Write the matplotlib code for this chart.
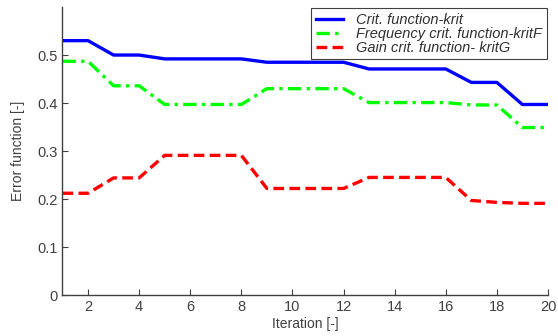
import matplotlib
matplotlib.use("Agg")
import matplotlib.pyplot as plt

plt.rcParams["font.family"] = "Liberation Sans"
plt.rcParams["font.size"] = 10

iteration = list(range(1, 21))
krit = [0.530, 0.530, 0.500, 0.500, 0.492, 0.492, 0.492, 0.492, 0.485, 0.485,
        0.485, 0.485, 0.471, 0.471, 0.471, 0.471, 0.443, 0.443, 0.397, 0.397]
krit_f = [0.487, 0.487, 0.436, 0.436, 0.397, 0.397, 0.397, 0.397, 0.430, 0.430,
          0.430, 0.430, 0.401, 0.401, 0.401, 0.401, 0.396, 0.396, 0.349, 0.349]
krit_g = [0.212, 0.212, 0.244, 0.244, 0.291, 0.291, 0.291, 0.291, 0.222, 0.222,
          0.222, 0.222, 0.245, 0.245, 0.245, 0.245, 0.197, 0.193, 0.191, 0.191]

axis_col = "#404040"

fig = plt.figure(figsize=(5.58, 3.36), dpi=100)
ax = fig.add_axes([0.112, 0.122, 0.870, 0.857])

ax.plot(iteration, krit, color="#0000ff", linewidth=2.4, label="Crit. function-krit")
ax.plot(iteration, krit_f, color="#00ff00", linewidth=2.4, linestyle=(0, (4, 1.6, 1, 1.6)),
        label="Frequency crit. function-kritF")
ax.plot(iteration, krit_g, color="#ff0000", linewidth=2.4, linestyle=(0, (3.2, 1.6)),
        label="Gain crit. function- kritG")

ax.set_xlim(1, 20)
ax.set_ylim(0, 0.6)
ax.set_xticks(range(2, 21, 2))
ax.set_yticks([0, 0.1, 0.2, 0.3, 0.4, 0.5])
ax.set_yticklabels(["0", "0.1", "0.2", "0.3", "0.4", "0.5"])

for side in ["top", "right"]:
    ax.spines[side].set_visible(False)
for side in ["left", "bottom"]:
    ax.spines[side].set_color(axis_col)
    ax.spines[side].set_linewidth(1.0)
ax.tick_params(direction="in", colors=axis_col, labelcolor=axis_col, length=4, labelsize=10.5)

ax.set_xlabel("Iteration [-]", color=axis_col, fontsize=10, labelpad=2)
ax.set_ylabel("Error function [-]", color=axis_col, fontsize=10, labelpad=9)

leg = ax.legend(loc="upper right", bbox_to_anchor=(0.9975, 0.995), fancybox=False,
                framealpha=1, edgecolor="#404040", fontsize=10.5, handlelength=1.9,
                borderpad=0.3, labelspacing=0.0, handletextpad=0.9, borderaxespad=0)
for t in leg.get_texts():
    t.set_fontstyle("italic")
    t.set_color("#303030")
leg.get_frame().set_linewidth(0.8)

fig.savefig("out.png", dpi=100)
